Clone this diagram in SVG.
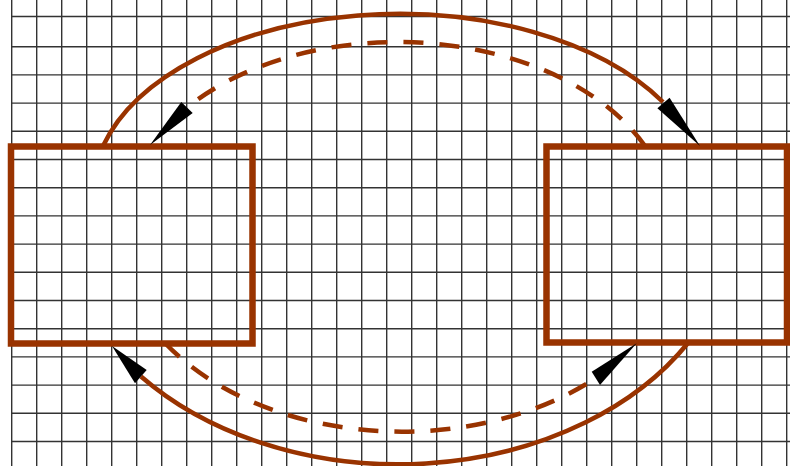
<svg xmlns="http://www.w3.org/2000/svg" width="790" height="466" viewBox="0 0 790 466">
<style>
.grid{fill:none;stroke:#333;stroke-width:1.4}
.box{fill:none;stroke:#993300;stroke-width:6.5}
.arc{fill:none;stroke:#993300;stroke-width:4.5}
.dash{stroke-dasharray:20 16}
.head{fill:#000}
</style>
<rect width="790" height="466" fill="#fff"/>
<g id="grid">
<path class="grid" d="M11.7,0V466M36.7,0V466M61.7,0V466M86.7,0V466M111.7,0V466M136.7,0V466M161.7,0V466M186.7,0V466M211.7,0V466M236.7,0V466M261.7,0V466M286.7,0V466M311.7,0V466M336.7,0V466M361.7,0V466M386.7,0V466M411.7,0V466M436.7,0V466M461.7,0V466M486.7,0V466M511.7,0V466M536.7,0V466M561.7,0V466M586.7,0V466M611.7,0V466M636.7,0V466M661.7,0V466M686.7,0V466M711.7,0V466M736.7,0V466M761.7,0V466M786.7,0V466"/>
<path class="grid" d="M11.7,16.5H790M11.7,46.7H790M11.7,74.9H790M11.7,103.1H790M11.7,131.3H790M11.7,159.5H790M11.7,187.7H790M11.7,215.9H790M11.7,244.1H790M11.7,272.3H790M11.7,300.5H790M11.7,328.7H790M11.7,356.9H790M11.7,385.1H790M11.7,413.3H790M11.7,441.5H790"/>
</g>
<g id="node-left">
<rect class="box" x="11" y="146.5" width="241.5" height="197"/>
</g>
<g id="node-right">
<rect class="box" x="546.5" y="146.5" width="240.5" height="196"/>
</g>
<g id="connectors">
<path class="arc" d="M103,146 A307,180 0 0 1 663,102"/>
<polygon class="head" points="700,146 657.4,108.2 669.6,97.8"/>
<path class="arc dash" d="M645,146 A273,180 0 0 0 187,107.5"/>
<polygon class="head" points="150,145 192.7,113.1 181.3,101.9"/>
<path class="arc" d="M688,343 A338,250 0 0 1 141,376.5"/>
<polygon class="head" points="112,346 135,383.3 146.7,370"/>
<path class="arc dash" d="M165,343 A285,200 0 0 0 596,378"/>
<polygon class="head" points="636.7,343.3 591.7,371.7 600,385"/>
</g>
</svg>
